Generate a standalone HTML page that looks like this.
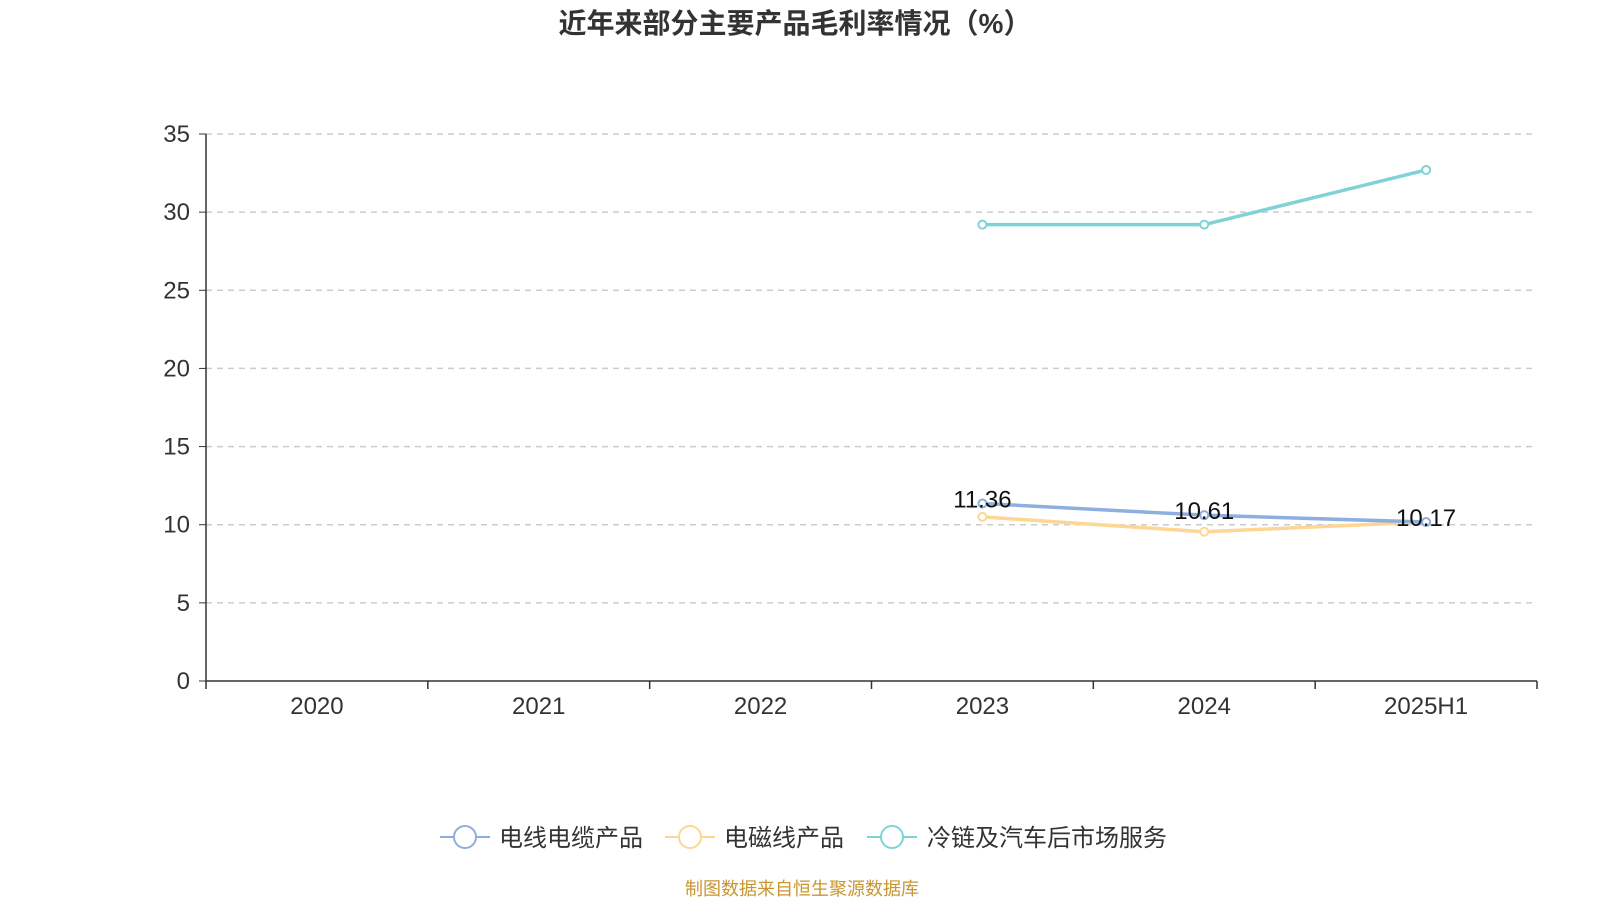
<!DOCTYPE html>
<html><head><meta charset="utf-8"><style>
body{margin:0;background:#fff;width:1600px;height:900px;overflow:hidden;font-family:"Liberation Sans","Noto Sans CJK SC",sans-serif}
</style></head><body>
<svg id="chart" width="1600" height="900" xmlns="http://www.w3.org/2000/svg">
<text x="795" y="33" text-anchor="middle" font-size="28" font-weight="bold" fill="#333" font-family="Liberation Sans,Noto Sans CJK SC,sans-serif">近年来部分主要产品毛利率情况（%）</text>
<g id="grid"></g><g id="axes"></g><g id="series"></g>
<g font-size="24" fill="#333" font-family="Liberation Sans,Noto Sans CJK SC,sans-serif">
 <g><line x1="440" y1="837" x2="490" y2="837" stroke="#8eaede" stroke-width="2"/><circle cx="465" cy="837" r="11" fill="#fff" stroke="#8eaede" stroke-width="2"/><text x="499" y="846">电线电缆产品</text></g>
 <g><line x1="665" y1="837" x2="715" y2="837" stroke="#fdd694" stroke-width="2"/><circle cx="690" cy="837" r="11" fill="#fff" stroke="#fdd694" stroke-width="2"/><text x="724" y="846">电磁线产品</text></g>
 <g><line x1="867" y1="837" x2="917" y2="837" stroke="#7fd3d6" stroke-width="2"/><circle cx="892" cy="837" r="11" fill="#fff" stroke="#7fd3d6" stroke-width="2"/><text x="927" y="846">冷链及汽车后市场服务</text></g>
</g>
<text x="802" y="895" text-anchor="middle" font-size="18" fill="#c8962e" font-family="Liberation Sans,Noto Sans CJK SC,sans-serif">制图数据来自恒生聚源数据库</text>
</svg>
<script>
const categories=["2020","2021","2022","2023","2024","2025H1"];
const yTicks=[0,5,10,15,20,25,30,35];
const cableVals=[null,null,null,11.36,10.61,10.17];
const magnetVals=[null,null,null,10.5,9.55,10.17];
const coldVals=[null,null,null,29.2,29.2,32.7];
const NS="http://www.w3.org/2000/svg";
const X0=206,X1=1537,Y0=681,Y1=134,YMAX=35;
const bw=(X1-X0)/categories.length;
const xs=i=>X0+bw*(i+0.5);
const ys=v=>Y0-(v/YMAX)*(Y0-Y1);
function mk(p,tag,a){const e=document.createElementNS(NS,tag);for(const k in a)e.setAttribute(k,a[k]);p.appendChild(e);return e;}
const grid=document.getElementById('grid'),axes=document.getElementById('axes'),ser=document.getElementById('series');
yTicks.forEach(t=>{
 const y=ys(t);
 if(t>0){const l=mk(grid,'line',{x1:X0,x2:X1,y1:y,y2:y,stroke:'#ccc','stroke-dasharray':'6,5','stroke-width':1.5});
 
 }
 mk(axes,'line',{x1:X0-7,x2:X0,y1:y,y2:y,stroke:'#333'});
 const tx=mk(axes,'text',{x:X0-16,y:y+8,'text-anchor':'end','font-size':24,fill:'#333'});
 tx.textContent=t;
 
 
});
mk(axes,'line',{x1:X0,x2:X0,y1:Y1,y2:Y0,stroke:'#333','stroke-width':1.5});
mk(axes,'line',{x1:X0,x2:X1,y1:Y0,y2:Y0,stroke:'#333','stroke-width':1.5});
for(let i=0;i<=categories.length;i++){const x=X0+bw*i;mk(axes,'line',{x1:x,x2:x,y1:Y0,y2:Y0+8,stroke:'#333','stroke-width':1.5});}
categories.forEach((c,i)=>{
 const tx=mk(axes,'text',{x:xs(i),y:Y0+33,'text-anchor':'middle','font-size':24,fill:'#333'});
 tx.textContent=c;
 
 
});
function drawSeries(vals,color,name,labels){
 const pts=[];vals.forEach((v,i)=>{if(v!=null)pts.push([xs(i),ys(v),v]);});
 const pl=mk(ser,'polyline',{points:pts.map(p=>p[0]+','+p[1]).join(' '),fill:'none',stroke:color,'stroke-width':3.5});
 
 
 pts.forEach(p=>{
  const c=mk(ser,'circle',{cx:p[0],cy:p[1],r:4,fill:'#fff',stroke:color,'stroke-width':2});
  
  
 });
 if(labels)pts.forEach(p=>{
  const t=mk(ser,'text',{x:p[0],y:p[1]+4,'text-anchor':'middle','font-size':24,fill:'#111'});
  t.textContent=p[2].toFixed(2);
  
  
 });
}
drawSeries(coldVals,'#7fd3d6','cold-chain',false);
drawSeries(magnetVals,'#fdd694','magnet-wire',false);
drawSeries(cableVals,'#8eaede','cable',true);
</script>
</body></html>
